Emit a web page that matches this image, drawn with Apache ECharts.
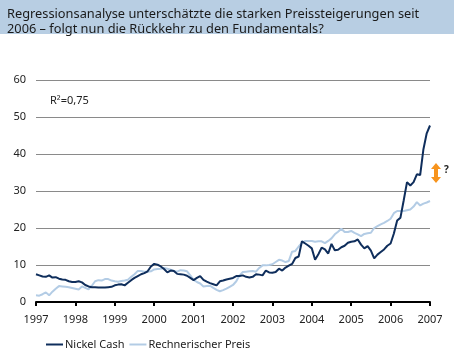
<!DOCTYPE html>
<html lang="de">
<head>
    <meta charset="UTF-8">
    <title>Nickel Cash vs. Rechnerischer Preis</title>
    <script src="https://cdn.jsdelivr.net/npm/echarts@6/dist/echarts.min.js"></script>
    <style>
        html, body { margin: 0; padding: 0; background: #fff; }
    </style>
</head>
<body>
    <div id="main" style="width: 454px;height:352px;"></div>
    <script type="text/javascript">
        // Jahre fuer die Achsenbeschriftung
        var years = ['1997', '1998', '1999', '2000', '2001', '2002', '2003', '2004', '2005', '2006', '2007'];

        // Monatswerte Jan 1997 - Jan 2007 (Tsd. USD/t)
        var nickelCash = [
            7.5, 7.2, 6.9, 6.8, 7.2, 6.6, 6.7, 6.3, 6.1, 6.0, 5.6, 5.4,
            5.4, 5.6, 5.3, 4.6, 4.2, 4.0, 4.0, 3.9, 3.9, 3.9, 4.0, 4.1,
            4.5, 4.7, 4.8, 4.5, 5.2, 5.9, 6.5, 7.0, 7.5, 7.8, 8.3, 9.6,
            10.3, 10.1, 9.6, 8.9, 8.0, 8.5, 8.4, 7.6, 7.5, 7.4, 7.1, 6.5,
            5.9, 6.5, 7.0, 6.0, 5.5, 5.1, 4.8, 4.5, 5.6, 5.8, 6.1, 6.3,
            6.5, 7.0, 7.0, 7.2, 6.8, 6.6, 6.8, 7.5, 7.4, 7.2, 8.5, 8.0,
            7.9, 8.1, 9.0, 8.5, 9.3, 9.8, 10.3, 11.9, 12.3, 16.4, 15.8, 15.2,
            14.5, 11.4, 12.9, 14.7, 14.2, 13.1, 15.7, 14.0, 14.1, 14.8, 15.2, 16.0,
            16.3, 16.4, 16.9, 15.5, 14.5, 15.1, 13.9, 11.8, 12.8, 13.5, 14.2, 15.2,
            15.8, 18.5, 22.0, 22.8, 27.5, 32.4, 31.5, 32.4, 34.5, 34.3, 41.3, 45.6,
            47.7
        ];
        var rechnerischerPreis = [
            1.8, 1.7, 2.1, 2.6, 1.8, 2.8, 3.6, 4.3, 4.2, 4.1, 4.0, 3.8,
            3.6, 3.4, 4.2, 3.8, 3.4, 4.4, 5.6, 5.9, 5.8, 6.2, 6.2, 5.8,
            5.6, 5.5, 5.7, 5.8, 6.0, 6.8, 7.5, 8.4, 8.4, 8.2, 8.2, 8.3,
            8.8, 8.9, 9.0, 9.2, 9.0, 8.7, 8.4, 8.2, 8.6, 8.5, 8.3, 7.2,
            6.0, 5.4, 5.0, 4.2, 4.3, 4.4, 3.8, 3.3, 2.9, 3.2, 3.6, 4.1,
            4.6, 5.6, 7.2, 8.1, 8.2, 8.3, 8.4, 8.2, 9.2, 9.9, 9.9, 10.0,
            10.2, 10.8, 11.4, 11.2, 10.8, 11.1, 13.6, 13.8, 15.0, 16.0, 16.5, 16.5,
            16.5, 16.3, 16.4, 16.4, 15.9, 16.5, 17.2, 18.3, 19.0, 19.8, 18.9, 18.9,
            19.2, 18.7, 18.3, 17.8, 18.4, 18.6, 18.7, 20.0, 20.5, 21.0, 21.4, 21.9,
            22.5, 24.0, 24.6, 24.6, 24.6, 24.8, 25.0, 25.8, 27.0, 26.1, 26.6, 26.9,
            27.3
        ];

        // Monatskategorien aus den Jahren bauen
        var months = [];
        for (var y = 0; y < years.length; y++) {
            for (var m = 1; m <= 12; m++) {
                if (y === years.length - 1 && m > 1) break;
                months.push(years[y] + '-' + (m < 10 ? '0' + m : m));
            }
        }

        var font = '"Noto Sans", "Open Sans", sans-serif';
        var yearTick = function (index) { return index % 12 === 0; };

        var myChart = echarts.init(document.getElementById('main'));
        var option = {
            backgroundColor: '#fff',
            animation: false,
            textStyle: { fontFamily: font },

            // Ueberschrift im blauen Band
            title: {
                text: 'Regressionsanalyse unterschätzte die starken Preissteigerungen seit\n2006 – folgt nun die Rückkehr zu den Fundamentals?',
                left: 2,
                top: 2,
                textStyle: {
                    fontFamily: font,
                    fontSize: 12.8,
                    lineHeight: 15,
                    fontWeight: 'normal',
                    color: '#1a1a1a'
                }
            },

            graphic: [
                {
                    type: 'rect',
                    z: -1,
                    shape: { x: 0, y: 0, width: 454, height: 34 },
                    style: { fill: '#b8cee3' }
                },
                {
                    type: 'text',
                    left: 50,
                    top: 95,
                    style: { text: 'R²=0,75', fontFamily: font, fontSize: 11, fill: '#222' }
                },
                // orangefarbener Doppelpfeil
                {
                    type: 'polygon',
                    shape: {
                        points: [[436, 163], [441, 169], [438, 169], [438, 177], [441, 177],
                                 [436, 183], [431, 177], [434, 177], [434, 169], [431, 169]]
                    },
                    style: { fill: '#f7941d' }
                },
                {
                    type: 'text',
                    left: 444,
                    top: 165,
                    style: { text: '?', fontFamily: font, fontSize: 10, fontWeight: 'bold', fill: '#222' }
                }
            ],

            legend: {
                left: 41,
                bottom: 2,
                padding: [0, 5],
                icon: 'rect',
                itemWidth: 17,
                itemHeight: 2,
                itemGap: 5,
                textStyle: { fontFamily: font, fontSize: 11, color: '#222', padding: [0, 0, 0, -3] },
                data: ['Nickel Cash', 'Rechnerischer Preis']
            },

            grid: { left: 36, right: 24, top: 80, bottom: 50 },

            xAxis: {
                type: 'category',
                boundaryGap: false,
                data: months,
                axisLine: { lineStyle: { color: '#000', width: 2 } },
                axisTick: { interval: yearTick, length: 4, lineStyle: { color: '#000', width: 2 } },
                axisLabel: {
                    interval: yearTick,
                    margin: 12,
                    fontSize: 11,
                    color: '#222',
                    formatter: function (v) { return v.slice(0, 4); }
                }
            },

            yAxis: {
                type: 'value',
                min: 0,
                max: 60,
                interval: 10,
                axisLine: { show: false },
                axisTick: { show: false },
                axisLabel: { margin: 10, fontSize: 11, color: '#222' },
                splitLine: { lineStyle: { color: '#8a8a8a', width: 1 } }
            },

            series: [
                {
                    name: 'Rechnerischer Preis',
                    type: 'line',
                    data: rechnerischerPreis,
                    showSymbol: false,
                    color: '#b3cce5',
                    lineStyle: { width: 2 }
                },
                {
                    name: 'Nickel Cash',
                    type: 'line',
                    data: nickelCash,
                    showSymbol: false,
                    color: '#0f2e5c',
                    lineStyle: { width: 2 }
                }
            ]
        };

        myChart.setOption(option);
    </script>
</body>
</html>
